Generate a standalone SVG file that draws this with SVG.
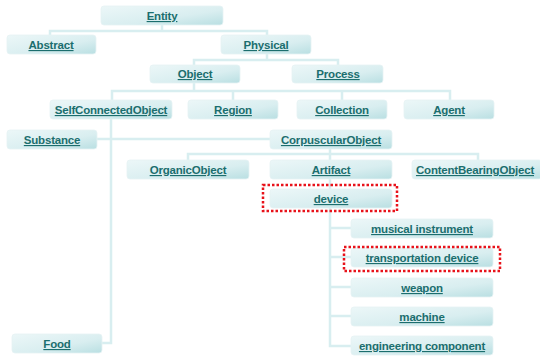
<svg xmlns="http://www.w3.org/2000/svg" width="540" height="357" viewBox="0 0 540 357">
  <defs>
    <linearGradient id="boxFill" x1="0" y1="0" x2="1" y2="1">
      <stop offset="0" stop-color="#ecf7f8"/>
      <stop offset="0.6" stop-color="#d9eef0"/>
      <stop offset="1" stop-color="#b9dfe2"/>
    </linearGradient>
    <style>
      .box { fill: url(#boxFill); stroke: #e6f3f4; stroke-width: 0.8; }
      .lbl { font-family: "Liberation Sans", Arial, sans-serif; font-size: 11.5px; font-weight: bold; fill: #1b6e6e; text-anchor: middle; text-decoration: underline; letter-spacing: -0.2px; }
      .edge { stroke: #d8eef0; stroke-width: 2.5; fill: none; }
      .mark { fill: none; stroke: #e8121a; stroke-width: 2.5; stroke-dasharray: 2.5 2; }
    </style>
  </defs>

  <g id="connectors">
    <path class="edge" d="M162 25V31M50 35V31H267V35"/>
    <path class="edge" d="M267 54V60M194 65V60H338V65"/>
    <path class="edge" d="M194 83V91M112 100V91H450V100M233 91V100M342 91V100"/>
    <path class="edge" d="M111 119V343H102M97 139H270"/>
    <path class="edge" d="M330 149V154M188 160V154H478V160M330 154V160"/>
    <path class="edge" d="M330 179V189"/>
    <path class="edge" d="M330 208V346H351M330 228H351M330 257H351M330 287H351M330 316H351"/>
  </g>

  <g id="entity"><rect class="box" x="101" y="6" width="122" height="19" rx="3"/><text class="lbl" x="162" y="20">Entity</text></g>
  <g id="abstract"><rect class="box" x="7" y="35" width="89" height="19" rx="3"/><text class="lbl" x="51" y="49">Abstract</text></g>
  <g id="physical"><rect class="box" x="221" y="35" width="90" height="19" rx="3"/><text class="lbl" x="266" y="49">Physical</text></g>
  <g id="object"><rect class="box" x="150" y="65" width="90" height="18" rx="3"/><text class="lbl" x="195" y="78">Object</text></g>
  <g id="process"><rect class="box" x="292" y="65" width="91" height="18" rx="3"/><text class="lbl" x="338" y="78">Process</text></g>
  <g id="selfconnectedobject"><rect class="box" x="50" y="100" width="122" height="19" rx="3"/><text class="lbl" x="111" y="114">SelfConnectedObject</text></g>
  <g id="region"><rect class="box" x="188" y="100" width="90" height="19" rx="3"/><text class="lbl" x="233" y="114">Region</text></g>
  <g id="collection"><rect class="box" x="297" y="100" width="90" height="19" rx="3"/><text class="lbl" x="342" y="114">Collection</text></g>
  <g id="agent"><rect class="box" x="404" y="100" width="90" height="19" rx="3"/><text class="lbl" x="449" y="114">Agent</text></g>
  <g id="substance"><rect class="box" x="7" y="130" width="90" height="19" rx="3"/><text class="lbl" x="52" y="144">Substance</text></g>
  <g id="corpuscularobject"><rect class="box" x="270" y="130" width="122" height="19" rx="3"/><text class="lbl" x="331" y="144">CorpuscularObject</text></g>
  <g id="organicobject"><rect class="box" x="127" y="160" width="122" height="19" rx="3"/><text class="lbl" x="188" y="174">OrganicObject</text></g>
  <g id="artifact"><rect class="box" x="270" y="160" width="122" height="19" rx="3"/><text class="lbl" x="331" y="174">Artifact</text></g>
  <g id="contentbearingobject"><rect class="box" x="412" y="160" width="130" height="19" rx="3"/><text class="lbl" x="475" y="174">ContentBearingObject</text></g>
  <g id="device"><rect class="box" x="270" y="189" width="122" height="19" rx="3"/><text class="lbl" x="331" y="203">device</text><rect class="mark" x="263" y="185" width="134" height="26"/></g>
  <g id="musical-instrument"><rect class="box" x="351" y="219" width="142" height="19" rx="3"/><text class="lbl" x="422" y="233">musical instrument</text></g>
  <g id="transportation-device"><rect class="box" x="351" y="248" width="142" height="19" rx="3"/><text class="lbl" x="422" y="262">transportation device</text><rect class="mark" x="344" y="247" width="156" height="24"/></g>
  <g id="weapon"><rect class="box" x="351" y="278" width="142" height="19" rx="3"/><text class="lbl" x="422" y="292">weapon</text></g>
  <g id="machine"><rect class="box" x="351" y="307" width="142" height="19" rx="3"/><text class="lbl" x="422" y="321">machine</text></g>
  <g id="engineering-component"><rect class="box" x="351" y="336" width="142" height="19" rx="3"/><text class="lbl" x="422" y="350">engineering component</text></g>
  <g id="food"><rect class="box" x="12" y="334" width="90" height="19" rx="3"/><text class="lbl" x="57" y="348">Food</text></g>
</svg>
